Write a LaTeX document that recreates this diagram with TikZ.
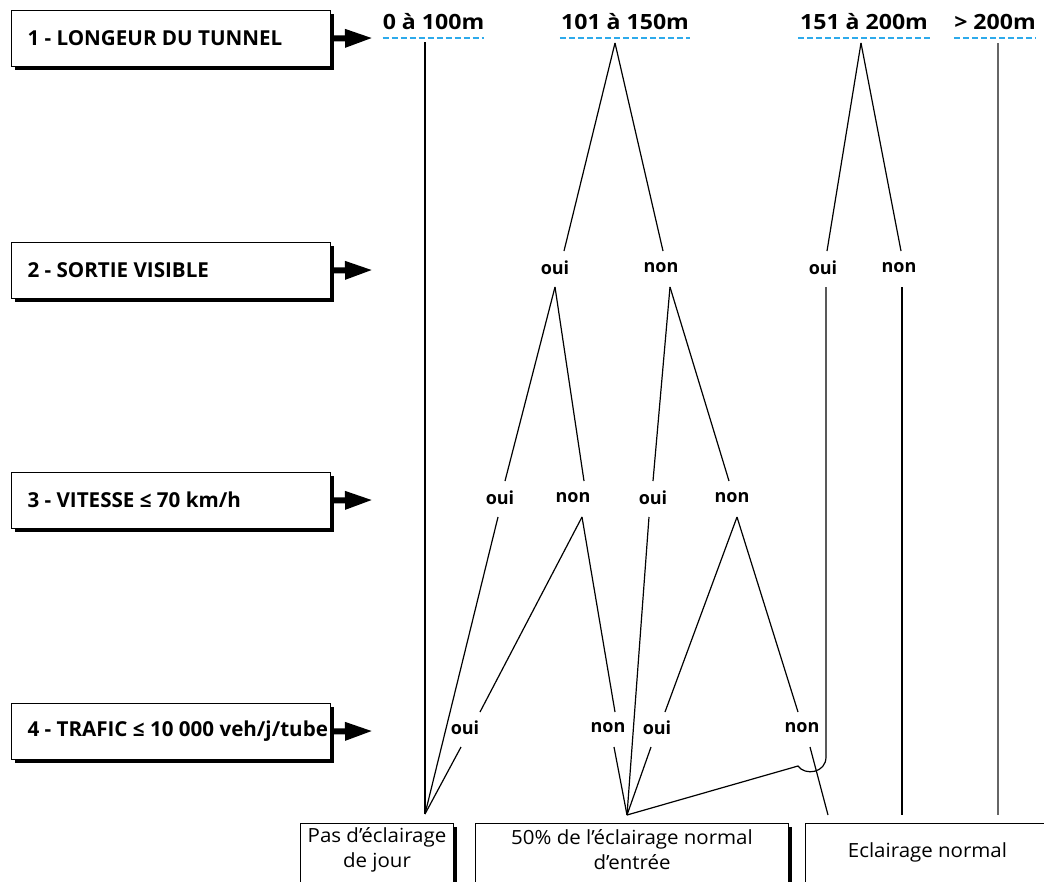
\documentclass[tikz,border=0pt]{standalone}
\usepackage{fontspec}
\setmainfont{Open Sans}
\newfontfamily\widefont{Open Sans}[FakeStretch=1.1]
\newfontfamily\outfont{Open Sans}[FakeStretch=1.05]
\usetikzlibrary{arrows.meta,shadows,calc}
\definecolor{dashcol}{RGB}{45,170,235}
\begin{document}
\begin{tikzpicture}[x=1pt,y=-1pt,
  titlebox/.style={draw=black, line width=1pt, fill=white,
    drop shadow={shadow xshift=3pt, shadow yshift=-3pt, opacity=1, fill=black},
    minimum width=319pt, minimum height=56pt, anchor=north west,
    inner xsep=16pt,
    font=\bfseries\fontsize{20.6}{24}\selectfont},
  bigarrow/.style={line width=6pt, -{Triangle[length=28pt,width=17pt]}},
  toplab/.style={font=\widefont\bfseries\fontsize{21}{24}\selectfont, inner xsep=0pt,
    text height=14pt, text depth=0pt, inner ysep=8.5pt},
  lab/.style={font=\bfseries\fontsize{18}{20}\selectfont, inner sep=0pt},
  dashblue/.style={draw=dashcol, line width=1.6pt, dash pattern=on 6pt off 3pt},
  branch/.style={line width=1.2pt, draw=black},
  outbox/.style={draw=black, line width=1pt, fill=white,
    drop shadow={shadow xshift=3pt, shadow yshift=-3pt, opacity=1, fill=black},
    anchor=north west, minimum height=70pt},
  outtext/.style={font=\outfont\fontsize{19.5}{25}\selectfont, align=center, inner sep=0pt}
]
\useasboundingbox (0,0) rectangle (1044,881);
\clip (0,0) rectangle (1044,881);

% ---- left question boxes
\node[titlebox] (b1) at (11,10)  {\makebox[287pt][l]{\raisebox{1.5pt}{1 - LONGEUR DU TUNNEL}}};
\node[titlebox] (b2) at (11,242) {\makebox[287pt][l]{\raisebox{1.5pt}{2 - SORTIE VISIBLE}}};
\node[titlebox] (b3) at (11,472) {\makebox[287pt][l]{\raisebox{1.5pt}{3 - VITESSE ≤ 70 km/h}}};
\node[titlebox] (b4) at (11,703) {\makebox[287pt][l]{\raisebox{1.5pt}{4 - TRAFIC ≤ 10 000 veh/j/tube}}};
\coordinate (a1) at (373,38);
\coordinate (a2) at (373,270);
\coordinate (a3) at (373,500);
\coordinate (a4) at (373,731);
\draw[bigarrow] (b1.east) -- (a1);
\draw[bigarrow] (b2.east) -- (a2);
\draw[bigarrow] (b3.east) -- (a3);
\draw[bigarrow] (b4.east) -- (a4);

% ---- top length labels
\node[toplab, minimum width=99pt]  (T0) at (433.5,22) {0 à 100m};
\node[toplab, minimum width=130pt] (T1) at (625,22)   {101 à 150m};
\node[toplab, minimum width=132pt] (T2) at (864,22)   {151 à 200m};
\node[toplab, minimum width=82pt]  (T3) at (995,22)   {> 200m};
\foreach \t in {T0,T1,T2,T3} \draw[dashblue] (\t.south west) -- (\t.south east);

% ---- answer labels
\node[lab] (l2a) at (555,268) {oui};
\node[lab] (l2b) at (661,268) {non};
\node[lab] (l2c) at (823,268) {oui};
\node[lab] (l2d) at (899,268) {non};
\node[lab] (l3a) at (500,498) {oui};
\node[lab] (l3b) at (573,498) {non};
\node[lab] (l3c) at (653,498) {oui};
\node[lab] (l3d) at (732,498) {non};
\node[lab] (l4a) at (465,728) {oui};
\node[lab] (l4b) at (608,728) {non};
\node[lab] (l4c) at (657,728) {oui};
\node[lab] (l4d) at (802,728) {non};

% ---- outcome boxes
\node[outbox, minimum width=153pt] (oA) at (300,823) {};
\node[outbox, minimum width=313pt] (oB) at (475,823) {};
\node[outbox, minimum width=250pt] (oC) at (805,823) {};
\node[outtext] (tA) at ($(oA.north)+(0,27)$) {Pas d’éclairage\\de jour};
\node[outtext] (tB) at ($(oB.north)+(0,27)$) {50\% de l’éclairage normal\\d’entrée};
\node[outtext] (tC) at ($(oC.north)+(-3,29)$) {Eclairage normal};

% ---- junction coordinates
\coordinate (t0) at (425,42);  \coordinate (t1) at (615,43);
\coordinate (t2) at (861,43);  \coordinate (t3) at (998,43);
\coordinate (e2a) at (564,251); \coordinate (e2b) at (663,251);
\coordinate (e2c) at (827,251); \coordinate (e2d) at (901,251);
\coordinate (s2a) at (555,287); \coordinate (s2b) at (670,287);
\coordinate (s2c) at (826,287); \coordinate (s2d) at (902,287);
\coordinate (e3a) at (505,481); \coordinate (e3b) at (584,481);
\coordinate (e3c) at (653,481); \coordinate (e3d) at (729,481);
\coordinate (s3a) at (498,517); \coordinate (s3b) at (582,517);
\coordinate (s3c) at (649,517); \coordinate (s3d) at (737,517);
\coordinate (e4a) at (480,712); \coordinate (e4b) at (615,712);
\coordinate (e4c) at (665,712); \coordinate (e4d) at (798,712);
\coordinate (s4a) at (461,747); \coordinate (s4b) at (614,747);
\coordinate (s4c) at (651,747); \coordinate (s4d) at (810,747);
\coordinate (mA) at (425,814);  \coordinate (mB) at (627,815);
\coordinate (eC) at (828,815);  \coordinate (eD) at (902,815);
\coordinate (eE) at (998,815);
\coordinate (h1) at (826,757);  \coordinate (h2) at (798,766);

% ---- branches
\draw[branch] (t0) -- (mA);
\draw[branch] (t1) -- (e2a);
\draw[branch] (t1) -- (e2b);
\draw[branch] (t2) -- (e2c);
\draw[branch] (t2) -- (e2d);
\draw[branch, draw=black!60] (t3) -- (eE);
\draw[branch] (s2a) -- (e3a);
\draw[branch] (s2a) -- (e3b);
\draw[branch] (s2b) -- (e3c);
\draw[branch] (s2b) -- (e3d);
\draw[branch] (s2c) -- (h1) .. controls (826,773) and (805,776) .. (h2) -- (mB);
\draw[branch] (s2d) -- (eD);
\draw[branch] (s3a) -- (mA);
\draw[branch] (s3b) -- (e4a);
\draw[branch] (s3b) -- (e4b);
\draw[branch] (s3c) -- (mB);
\draw[branch] (s3d) -- (e4c);
\draw[branch] (s3d) -- (e4d);
\draw[branch] (s4a) -- (mA);
\draw[branch] (s4b) -- (mB);
\draw[branch] (s4c) -- (mB);
\draw[branch] (s4d) -- (eC);
\end{tikzpicture}
\end{document}
